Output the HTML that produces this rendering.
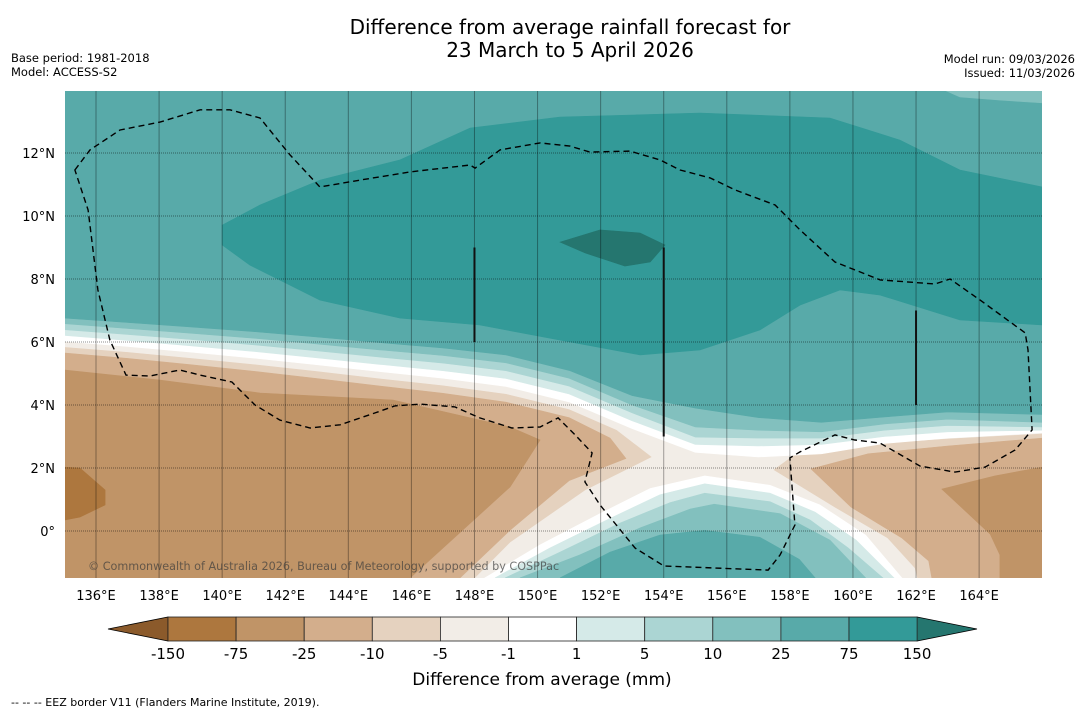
<!DOCTYPE html>
<html><head><meta charset="utf-8"><style>
html,body{margin:0;padding:0;background:#fff;}
body{width:1085px;height:713px;overflow:hidden;position:relative;font-family:"DejaVu Sans","Liberation Sans",sans-serif;}
svg{position:absolute;left:0;top:0;}
</style></head><body>
<svg id="chart" width="1085" height="713" viewBox="0 0 1085 713" xmlns="http://www.w3.org/2000/svg" font-family="DejaVu Sans, Liberation Sans, sans-serif">
<text x="570" y="34" font-size="20" text-anchor="middle">Difference from average rainfall forecast for</text>
<text x="570" y="57" font-size="20" text-anchor="middle">23 March to 5 April 2026</text>
<text x="11" y="62" font-size="11.5">Base period: 1981-2018</text>
<text x="11" y="76" font-size="11.5">Model: ACCESS-S2</text>
<text x="1075" y="63" font-size="11.5" text-anchor="end">Model run: 09/03/2026</text>
<text x="1075" y="77" font-size="11.5" text-anchor="end">Issued: 11/03/2026</text>
<defs><clipPath id="mapclip"><rect x="65" y="91" width="977" height="487"/></clipPath></defs>
<g id="map" clip-path="url(#mapclip)"></g>
<g id="axes"></g>
<g id="cbar"></g>
<text x="542" y="685" font-size="17" text-anchor="middle">Difference from average (mm)</text>
<text x="11" y="706" font-size="11">--  --  -- EEZ border V11 (Flanders Marine Institute, 2019).</text>
</svg>
<script>
// ---- data ----
const LONS=[135,137,139,141,143,145,147,149,151,153,155,157,159,161,163,166];
const C25=[6.76,6.62,6.48,6.33,6.16,5.98,5.81,5.59,5.10,4.30,3.90,3.60,3.45,3.62,3.78,3.70];
const C10=[6.58,6.43,6.28,6.12,5.94,5.75,5.57,5.34,4.85,4.00,3.30,3.20,3.15,3.40,3.55,3.45];
const C5=[6.39,6.24,6.08,5.91,5.72,5.52,5.33,5.09,4.60,3.75,2.98,2.95,2.95,3.20,3.35,3.30];
const C1=[6.21,6.05,5.88,5.70,5.50,5.29,5.09,4.84,4.35,3.50,2.75,2.70,2.75,3.00,3.15,3.20];
const CM1=[6.02,5.86,5.68,5.49,5.28,5.06,4.85,4.59,4.10,3.25,2.50,2.35,2.45,2.78,2.95,3.12];
const westLight=[[135,5.83],[137,5.67],[139,5.48],[141,5.28],[143,5.06],[145,4.83],[147,4.61],[149,4.34],[151,3.85],[152.5,3.2],[153.6,2.35],[151.5,1.3],[149.13,-0.35],[148.0,-1.49],[135,-1.49]];
const westMid=[[135,5.65],[137,5.48],[139,5.28],[141,5.07],[143,4.84],[145,4.60],[147,4.37],[149,4.09],[151,3.60],[152.3,2.95],[152.8,2.3],[151,1.6],[149.13,0.03],[147.54,-1.49],[135,-1.49]];
const westDeep=[[135,5.11],[138.03,4.79],[141.2,4.38],[145.42,4.16],[149.13,3.30],[150.08,2.89],[149.13,1.40],[145.96,-1.49],[135,-1.49]];
const westDark=[[135,2.03],[135.49,2.0],[136.29,1.30],[136.29,0.83],[135.49,0.44],[135,0.35]];
const eastLight=[[157.5,1.94],[158.2,2.45],[160,2.72],[163,2.92],[166,3.08],[166,-1.49],[162.05,-1.49],[161.97,-1.17],[161.1,-0.22],[159.43,0.76]];
const eastMid=[[158.67,1.97],[160.48,2.45],[163,2.7],[166,2.95],[166,-1.49],[162.5,-1.49],[162.4,-0.95],[161.55,-0.22],[159.94,0.76]];
const eastDeep=[[162.82,1.33],[164.5,1.75],[166,2.03],[166,-1.49],[164.66,-1.49],[164.66,-0.76],[164.35,-0.10]];
const blobW=[[148.33,-1.49],[150.08,-0.44],[151.98,0.55],[153.57,1.35],[155.3,1.75],[157.37,1.45],[158.95,0.83],[160.4,-0.13],[161.55,-1.49]];
const blob1=[[148.65,-1.49],[150.39,-0.54],[152.30,0.40],[153.88,1.15],[155.3,1.50],[157.37,1.20],[158.80,0.60],[160.1,-0.29],[161.3,-1.49]];
const blob5=[[148.97,-1.49],[150.71,-0.67],[152.61,0.25],[154.20,0.90],[155.3,1.20],[157.37,0.93],[158.64,0.35],[159.85,-0.54],[160.95,-1.49]];
const blob10=[[149.44,-1.49],[151.34,-0.76],[153.25,0.10],[154.84,0.70],[155.6,0.85],[157.69,0.55],[159.27,-0.29],[160.4,-1.49]];
const blob25=[[150.71,-1.49],[152.30,-0.67],[153.88,-0.13],[155.3,0.02],[157.05,-0.2],[158.3,-0.9],[158.8,-1.49]];
const band75=[[140.0,9.71],[141.2,10.35],[143.1,11.14],[145.64,11.78],[147.86,12.79],[150.71,13.14],[155.15,13.27],[159.27,13.11],[161.49,12.41],[163.39,11.46],[166,10.92],[166,6.54],[163.39,6.70],[160.86,7.49],[159.59,7.65],[158.32,7.17],[157.05,6.38],[155.15,5.75],[153.25,5.59],[150.71,6.06],[148.17,6.54],[145.64,6.76],[143.1,7.33],[140.88,8.44],[140.0,9.08]];
const core150=[[150.71,9.17],[151.98,9.56],[153.25,9.46],[154.04,9.08],[153.57,8.54],[152.77,8.41],[151.5,8.83]];
const topRight=[[162.44,14.2],[166.5,14.2],[166,13.59],[164.66,13.68],[163.39,13.78]];
const eez=[[135.33,11.46],[135.81,12.10],[136.76,12.73],[138.03,12.98],[139.30,13.37],[140.25,13.37],[141.20,13.11],[142.15,11.94],[143.10,10.92],[144.37,11.14],[145.96,11.40],[147.86,11.62],[148.02,11.52],[148.81,12.10],[150.08,12.32],[151.03,12.22],[151.66,12.03],[152.93,12.06],[153.88,11.78],[154.52,11.46],[155.47,11.21],[156.26,10.83],[157.53,10.35],[158.32,9.56],[159.43,8.54],[160.86,7.97],[162.60,7.84],[163.08,8.0],[164.03,7.33],[165.46,6.29],[165.55,5.75],[165.68,3.21],[165.14,2.57],[164.19,2.03],[163.24,1.87],[162.13,2.06],[160.86,2.79],[160.06,2.89],[159.43,3.05],[158.32,2.51],[158.0,2.32],[158.16,0.19],[157.69,-0.76],[157.31,-1.24],[154.01,-1.11],[153.09,-0.54],[151.98,0.83],[151.50,1.56],[151.73,2.48],[151.19,3.05],[150.65,3.59],[150.08,3.30],[149.19,3.27],[148.17,3.59],[147.38,3.94],[146.27,4.03],[145.48,3.97],[144.85,3.75],[143.74,3.37],[142.79,3.27],[141.83,3.52],[141.04,4.0],[140.31,4.73],[139.30,4.95],[138.66,5.11],[137.71,4.92],[136.95,4.95],[136.44,6.06],[136.06,7.65],[135.75,10.19]];
const cables=[[148,9.0,6.0],[154,9.0,3.0],[162,7.0,4.0]];
const lonTicks=[136,138,140,142,144,146,148,150,152,154,156,158,160,162,164];
const latTicks=[0,2,4,6,8,10,12];
const cbLabels=["-150","-75","-25","-10","-5","-1","1","5","10","25","75","150"];
const cbColors=["#ad773e","#c09467","#d3ae8c","#e5d2bf","#f2ede7","#ffffff","#d5eae8","#abd5d3","#82c0be","#58aaa9","#339a98"];
const cbUnder="#8b5a2b", cbOver="#25766f";

// ---- scales ----
const X=lon=>96+(lon-136)*31.54;
const Y=lat=>153+(12-lat)*31.5;
const NS="http://www.w3.org/2000/svg";
const map=document.getElementById('map'), axes=document.getElementById('axes'), cbar=document.getElementById('cbar');
function mk(tag,attrs,parent){const e=document.createElementNS(NS,tag);for(const k in attrs)e.setAttribute(k,attrs[k]);parent.appendChild(e);return e;}
function polyStr(pts){return pts.map(p=>X(p[0]).toFixed(1)+','+Y(p[1]).toFixed(1)).join(' ');}
function aboveCurve(lats){const pts=LONS.map((l,i)=>[l,lats[i]]);pts.push([166.5,14.5]);pts.push([134.5,14.5]);return pts;}

let bg=mk('rect',{x:65,y:91,width:977,height:487,fill:'#f2ede7'},map);


function fillPoly(pts,color,name){const p=mk('polygon',{points:polyStr(pts),fill:color,stroke:color,'stroke-width':0.6},map);


return p;}
fillPoly(westLight,'#e5d2bf','west-dry-light');
fillPoly(westMid,'#d3ae8c','west-dry-mid');
fillPoly(westDeep,'#c09467','west-dry-deep');
fillPoly(westDark,'#ad773e','west-dry-darkest');
fillPoly(eastLight,'#e5d2bf','east-dry-light');
fillPoly(eastMid,'#d3ae8c','east-dry-mid');
fillPoly(eastDeep,'#c09467','east-dry-deep');
fillPoly(aboveCurve(CM1),'#ffffff','north-neutral-band');
fillPoly(aboveCurve(C1),'#d5eae8','north-wet-1');
fillPoly(aboveCurve(C5),'#abd5d3','north-wet-5');
fillPoly(aboveCurve(C10),'#82c0be','north-wet-10');
fillPoly(aboveCurve(C25),'#58aaa9','north-wet-25');
fillPoly(band75,'#339a98','north-wet-75');
fillPoly(core150,'#25766f','north-wet-150');
fillPoly(topRight,'#82c0be','top-right-wet-10');
fillPoly(blobW,'#ffffff','south-neutral-ring');
fillPoly(blob1,'#d5eae8','south-wet-1');
fillPoly(blob5,'#abd5d3','south-wet-5');
fillPoly(blob10,'#82c0be','south-wet-10');
fillPoly(blob25,'#58aaa9','south-wet-25');

// grid
lonTicks.forEach(l=>{const g=mk('line',{x1:X(l),x2:X(l),y1:91,y2:578,stroke:'rgba(0,0,0,0.35)','stroke-width':1},map);

});
latTicks.forEach(l=>{const g=mk('line',{x1:65,x2:1042,y1:Y(l),y2:Y(l),stroke:'rgba(0,0,0,0.45)','stroke-width':1,'stroke-dasharray':'1,1'},map);

});

// cables
cables.forEach(c=>{const g=mk('line',{x1:X(c[0]),x2:X(c[0]),y1:Y(c[1]),y2:Y(c[2]),stroke:'#111','stroke-width':2},map);

});

// EEZ
const ez=mk('polygon',{points:polyStr(eez),fill:'none',stroke:'#000','stroke-width':1.4,'stroke-dasharray':'6,4'},map);



const cp=mk('text',{x:88,y:570,'font-size':11.2,fill:'rgba(60,60,60,0.7)'},map);
cp.textContent='© Commonwealth of Australia 2026, Bureau of Meteorology, supported by COSPPac';



// axis labels
lonTicks.forEach(l=>{const t=mk('text',{x:X(l),y:600,'font-size':13,'text-anchor':'middle'},axes);t.textContent=l+'°E';

});
latTicks.forEach(l=>{const t=mk('text',{x:55,y:Y(l)+5,'font-size':13,'text-anchor':'end'},axes);t.textContent=l===0?'0°':l+'°N';

});

// colorbar
const cbX0=168,cbW=68.1,cbY=617,cbH=24;
const tl=mk('polygon',{points:`108,629 ${cbX0},${cbY} ${cbX0},${cbY+cbH}`,fill:cbUnder,stroke:'#000','stroke-width':0.8},cbar);


const xe=cbX0+cbColors.length*cbW;
const tr=mk('polygon',{points:`${xe},${cbY} 977,629 ${xe},${cbY+cbH}`,fill:cbOver,stroke:'#000','stroke-width':0.8},cbar);


cbColors.forEach((c,i)=>{const r=mk('rect',{x:cbX0+i*cbW,y:cbY,width:cbW,height:cbH,fill:c,stroke:'#222','stroke-width':0.8},cbar);

});
cbLabels.forEach((s,i)=>{const t=mk('text',{x:cbX0+i*cbW,y:659,'font-size':15,'text-anchor':'middle'},cbar);t.textContent=s;

});
</script>
</body></html>
